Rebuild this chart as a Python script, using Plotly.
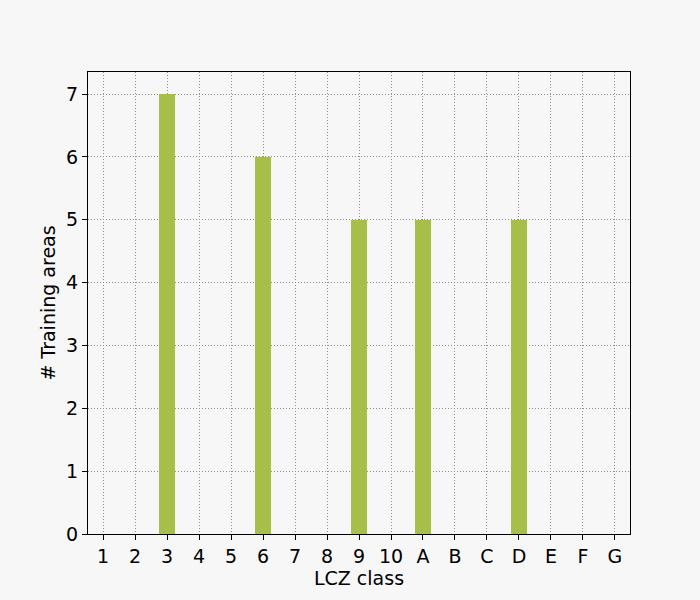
import plotly.graph_objects as go

# LCZ classes and number of training areas per class
lcz_classes = ["1", "2", "3", "4", "5", "6", "7", "8", "9", "10",
               "A", "B", "C", "D", "E", "F", "G"]
n_areas = [0, 0, 7, 0, 0, 6, 0, 0, 5, 0, 5, 0, 0, 5, 0, 0, 0]

bg = "#f7f7f7"
font = dict(family="DejaVu Sans", size=19, color="black")

fig = go.Figure()
fig.add_trace(go.Bar(
    x=lcz_classes,
    y=n_areas,
    width=0.5,
    marker=dict(color="#a7bf48", line=dict(width=0)),
    showlegend=False,
))

axis_common = dict(
    showline=True, linecolor="black", linewidth=1.2, mirror=True,
    ticks="outside", ticklen=5, tickwidth=1.2, tickcolor="black",
    showgrid=True, gridcolor="#8c8c8c", gridwidth=1, griddash="1px,2px",
    zeroline=False, tickfont=font,
)

fig.update_xaxes(
    type="category", range=[-0.47, 16.47],
    title=dict(text="LCZ class", font=font, standoff=2),
    **axis_common,
)
fig.update_yaxes(
    range=[0, 7.35], tickmode="linear", tick0=0, dtick=1,
    title=dict(text="# Training areas", font=font, standoff=5),
    **axis_common,
)

fig.update_layout(
    width=700, height=600,
    paper_bgcolor=bg, plot_bgcolor=bg,
    margin=dict(l=88, r=70, t=72, b=66),
    font=font,
    bargap=0,
)

# drop the page's default body margin so the figure fills the window
fig.write_html("out.html", config={"displayModeBar": False},
               post_script="document.body.style.margin='0';")
